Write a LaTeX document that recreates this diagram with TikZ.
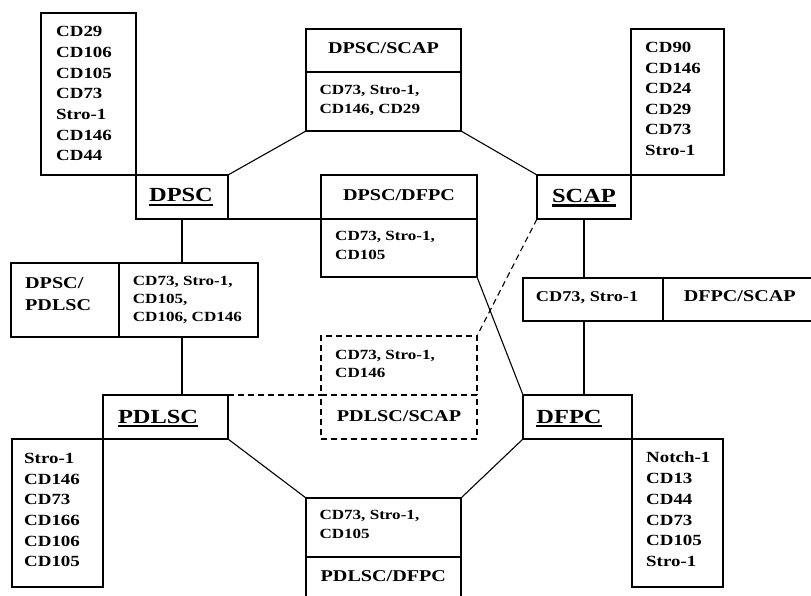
\documentclass[tikz,border=0pt]{standalone}
\usepackage{fontspec}
\setmainfont{Liberation Serif}[FakeStretch=1.22]
\newcommand\stk[2]{\vtop{\baselineskip=#1\lineskip=0pt\lineskiplimit=-30pt\halign{##\hfil\cr#2\crcr}}}
\newcommand\ulab[1]{\setbox0=\hbox{#1}\rlap{\rule[-4.2pt]{\wd0}{2.6pt}}\box0}
\tikzset{
 box/.style={draw, line width=1.3pt, inner sep=0pt, outer sep=0pt, anchor=north west},
 dbox/.style={box, dash pattern=on 6pt off 4pt},
 conn/.style={line width=1.1pt},
 dconn/.style={conn, dash pattern=on 6pt off 4pt},
 txt/.style={inner sep=0pt, anchor=base west, font=\bfseries\fontsize{14}{18}\selectfont},
 lst/.style={txt, font=\bfseries\fontsize{15.5}{20.7}\selectfont},
 head/.style={inner sep=0pt, anchor=base, font=\bfseries\fontsize{16.5}{20}\selectfont},
 lab/.style={inner sep=0pt, anchor=base, font=\bfseries\fontsize{20}{24}\selectfont},
}
\begin{document}
\begin{tikzpicture}[x=1pt, y=-1pt]
\useasboundingbox (0,0) rectangle (811,596);
\clip (0,0) rectangle (811,596);
% boxes
\node[box, minimum width=95pt, minimum height=162pt] (dpscm) at (41,13) {};
\node[box, minimum width=92pt, minimum height=44pt] (dpsc) at (136,175) {};
\node[box, minimum width=155pt, minimum height=43pt] (dsT) at (306,29) {};
\node[box, minimum width=155pt, minimum height=59pt] (dsB) at (306,72) {};
\node[box, minimum width=93pt, minimum height=146pt] (scapm) at (631,29) {};
\node[box, minimum width=94pt, minimum height=44pt] (scap) at (537,175) {};
\node[box, minimum width=156pt, minimum height=44pt] (ddT) at (321,175) {};
\node[box, minimum width=156pt, minimum height=58pt] (ddB) at (321,219) {};
\node[box, minimum width=108pt, minimum height=74pt] (dpL) at (11,263) {};
\node[box, minimum width=139pt, minimum height=74pt] (dpR) at (119,263) {};
\node[box, minimum width=140pt, minimum height=43pt] (fsL) at (523,278) {};
\node[box, minimum width=153pt, minimum height=43pt] (fsR) at (663,278) {};
\node[dbox, minimum width=156pt, minimum height=59pt] (psT) at (321,336) {};
\node[dbox, minimum width=156pt, minimum height=44pt] (psB) at (321,395) {};
\node[box, minimum width=125pt, minimum height=44pt] (pdlsc) at (103,395) {};
\node[box, minimum width=91pt, minimum height=148pt] (pdlscm) at (12,439) {};
\node[box, minimum width=109pt, minimum height=44pt] (dfpc) at (523,395) {};
\node[box, minimum width=91pt, minimum height=148pt] (dfpcm) at (632,439) {};
\node[box, minimum width=155pt, minimum height=59pt] (pdT) at (306,498) {};
\node[box, minimum width=155pt, minimum height=48pt] (pdB) at (306,557) {};
% connectors
\draw[conn] (dpsc.north east) -- (dsB.south west);
\draw[conn] (dsB.south east) -- (scap.north west);
\draw[conn] (dpsc.south) -- (dpsc.south |- dpR.north);
\draw[conn] (dpsc.south |- dpR.south) -- (dpsc.south |- pdlsc.north);
\draw[conn] (dpsc.south east) -- (ddT.south west);
\draw[conn] (ddB.south east) -- (dfpc.north west);
\draw[conn] (scap.south) -- (scap.south |- fsL.north);
\draw[conn] (scap.south |- fsL.south) -- (scap.south |- dfpc.north);
\draw[dconn] (scap.south west) -- (psT.north east);
\draw[dconn] (pdlsc.north east) -- (psB.north west);
\draw[conn] (pdlsc.south east) -- (pdT.north west);
\draw[conn] (pdT.north east) -- (dfpc.south west);
% texts
\node[lst] (t1) at (56,36.7) {\stk{20.7pt}{CD29\cr CD106\cr CD105\cr CD73\cr Stro-1\cr CD146\cr CD44}};
\node[head] (t2) at (383.5,53.5) {DPSC/SCAP};
\node[txt] (t3) at (319.3,95) {\stk{18.3pt}{CD73, Stro-1,\cr CD146, CD29}};
\node[lst] (t4) at (645,52.7) {\stk{20.5pt}{CD90\cr CD146\cr CD24\cr CD29\cr CD73\cr Stro-1}};
\node[lab] (t5) at (181,202) {\ulab{DPSC}};
\node[lab] (t6) at (584,202.5) {\ulab{SCAP}};
\node[head] (t7) at (399,200.5) {DPSC/DFPC};
\node[txt] (t8) at (335,240.7) {\stk{18.6pt}{CD73, Stro-1,\cr CD105}};
\node[txt, font=\bfseries\fontsize{16.5}{20}\selectfont] (t9) at (25,288.3) {\stk{22.4pt}{DPSC/\cr PDLSC}};
\node[txt] (t10) at (132.7,285) {\stk{18pt}{CD73, Stro-1,\cr CD105,\cr CD106, CD146}};
\node[txt, font=\bfseries\fontsize{15}{18}\selectfont] (t11) at (535.7,301.7) {CD73, Stro-1};
\node[head] (t12) at (739.7,301.7) {DFPC/SCAP};
\node[txt] (t13) at (335,359.3) {\stk{18pt}{CD73, Stro-1,\cr CD146}};
\node[head] (t14) at (399,421) {PDLSC/SCAP};
\node[lab] (t15) at (158,423) {\ulab{PDLSC}};
\node[lab] (t16) at (569,423) {\ulab{DFPC}};
\node[lst] (t17) at (24,463.3) {\stk{20.7pt}{Stro-1\cr CD146\cr CD73\cr CD166\cr CD106\cr CD105}};
\node[lst] (t18) at (646,462.7) {\stk{20.8pt}{Notch-1\cr CD13\cr CD44\cr CD73\cr CD105\cr Stro-1}};
\node[txt] (t19) at (319.3,519.3) {\stk{19pt}{CD73, Stro-1,\cr CD105}};
\node[head] (t20) at (383.3,581.7) {PDLSC/DFPC};
\end{tikzpicture}
\end{document}
